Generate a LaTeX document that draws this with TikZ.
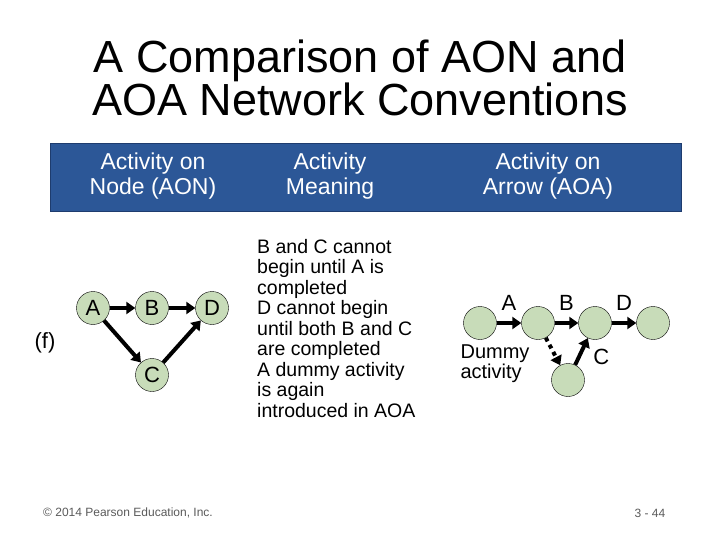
\documentclass[tikz,border=0pt]{standalone}
\usepackage{fontspec}
\setmainfont{Liberation Sans}
\usetikzlibrary{arrows.meta}
\begin{document}
\begin{tikzpicture}[x=1pt,y=-1pt,
  ev/.style={circle,draw=black,fill={rgb,255:red,200;green,220;blue,185},minimum size=33pt,inner sep=0pt,font=\fontsize{22}{22}\selectfont},
  arr/.style={line width=4pt,-{Triangle[length=9pt,width=12pt]}},
  lbl/.style={font=\fontsize{22}{22}\selectfont},
  hd/.style={text=white,align=center,font=\fontsize{23}{25}\selectfont}]
\useasboundingbox (0,0) rectangle (720,540);
\node[font=\fontsize{45}{43}\selectfont,align=center] (title) at (360,78) {A Comparison of AON and\\AOA Network Conventions};
\fill[fill={rgb,255:red,44;green,87;blue,151},draw={rgb,255:red,30;green,60;blue,110}] (50,143) rectangle (681,211);
\node[hd] (h1) at (153,176) {Activity on\\Node (AON)};
\node[hd] (h2) at (330,176) {Activity\\Meaning};
\node[hd] (h3) at (548,176) {Activity on\\Arrow (AOA)};
% AON
\node[ev] (A) at (93,308) {A};
\node[ev] (B) at (152,308) {B};
\node[ev] (D) at (212,308) {D};
\node[ev] (C) at (152,375) {C};
\node[lbl] (f) at (45,343) {(f)};
\draw[arr] (A) -- (B);
\draw[arr] (B) -- (D);
\draw[arr] (A) -- (C);
\draw[arr] (C) -- (D);
% meaning
\node[anchor=north west,align=left,font=\fontsize{19.5}{20.5}\selectfont,inner sep=0pt] (m) at (257,239) {B and C cannot\\begin until A is\\completed\\D cannot begin\\until both B and C\\are completed\\A dummy activity\\is again\\introduced in AOA};
% AOA
\node[ev] (n1) at (480,323) {};
\node[ev] (n2) at (538,323) {};
\node[ev] (n3) at (595,323) {};
\node[ev] (n4) at (653,323) {};
\node[ev] (n5) at (568,380) {};
\draw[arr] (n1) -- node[lbl,above=7pt]{A} (n2);
\draw[arr] (n2) -- node[lbl,above=7pt]{B} (n3);
\draw[arr] (n3) -- node[lbl,above=7pt]{D} (n4);
\draw[arr,dash pattern=on 4pt off 4pt] (n2) -- (n5);
\draw[arr] (n5) -- node[lbl,right=9pt,pos=0.3]{C} (n3);
\node[align=left,font=\fontsize{20}{20}\selectfont] (dm) at (495,364) {Dummy\\activity};
\node[font=\fontsize{12}{12}\selectfont,text={rgb,255:red,90;green,90;blue,90}] (cp) at (128,513) {© 2014 Pearson Education, Inc.};
\node[font=\fontsize{12}{12}\selectfont,text={rgb,255:red,90;green,90;blue,90}] (pg) at (650,513) {3 - 44};
\end{tikzpicture}
\end{document}
